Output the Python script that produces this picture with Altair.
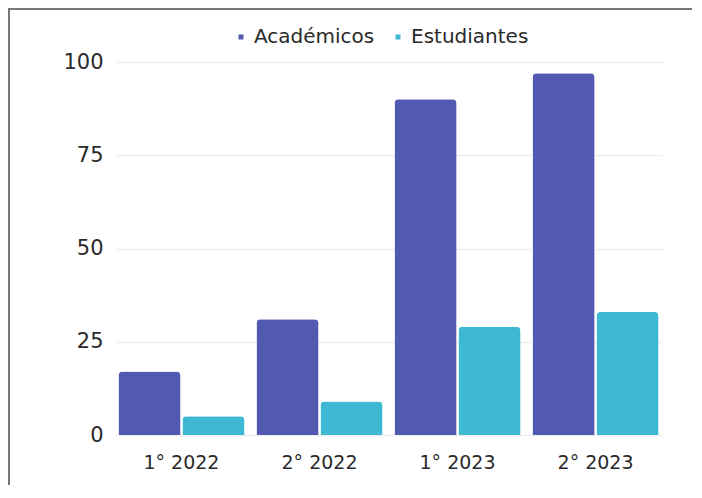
import altair as alt
import pandas as pd

periodos = ["1° 2022", "2° 2022", "1° 2023", "2° 2023"]
series = ["Académicos", "Estudiantes"]
academicos = [17, 31, 90, 97]
estudiantes = [5, 9, 29, 33]
colores = ["#5159B1", "#3FB8D4"]

rows = []
for p, a, e in zip(periodos, academicos, estudiantes):
    rows.append({"periodo": p, "grupo": series[0], "valor": a})
    rows.append({"periodo": p, "grupo": series[1], "valor": e})
df = pd.DataFrame(rows)

FONT = "DejaVu Sans"

bars = alt.Chart(df).mark_bar(cornerRadiusTopLeft=4, cornerRadiusTopRight=4).encode(
    x=alt.X("periodo:N", sort=periodos, title=None,
            scale=alt.Scale(paddingInner=0.087, paddingOuter=0.025),
            axis=alt.Axis(labelAngle=0, labelFontSize=19, labelColor="#2a2a2a",
                          labelFont=FONT, ticks=False, domain=False, labelPadding=18, grid=False)),
    xOffset=alt.XOffset("grupo:N", sort=series, scale=alt.Scale(paddingInner=0.03)),
    y=alt.Y("valor:Q", title=None,
            scale=alt.Scale(domain=[0, 100]),
            axis=alt.Axis(values=[0, 25, 50, 75, 100], labelFontSize=21, labelColor="#2a2a2a",
                          labelFont=FONT, ticks=False, domain=False, labelPadding=12,
                          gridColor="#eeeeee", gridWidth=1.5)),
    color=alt.Color("grupo:N", sort=series,
                    scale=alt.Scale(domain=series, range=colores),
                    legend=alt.Legend(title=None, orient="none", direction="horizontal",
                                      legendX=116, legendY=-35, symbolType="square",
                                      symbolSize=25, labelFontSize=20, labelFont=FONT,
                                      labelColor="#2a2a2a", columnPadding=13,
                                      symbolStrokeWidth=0, labelOffset=3)),
)

border_left = alt.Chart(pd.DataFrame({"k": [0]})).mark_rule(color="#777777", strokeWidth=2).encode(
    x=alt.value(-106), y=alt.value(-54), y2=alt.value(480))
border_top = alt.Chart(pd.DataFrame({"k": [0]})).mark_rule(color="#777777", strokeWidth=2).encode(
    y=alt.value(-53), x=alt.value(-107), x2=alt.value(600))

chart = alt.layer(bars, border_left, border_top).properties(
    width=547, height=373,
    padding={"left": 107, "top": 54, "right": 30, "bottom": 50},
    autosize=alt.AutoSizeParams(type="none"),
).configure(font=FONT).configure_view(strokeWidth=0, stroke="transparent")

chart.save("out.html", embed_options={"renderer": "svg", "actions": False})
